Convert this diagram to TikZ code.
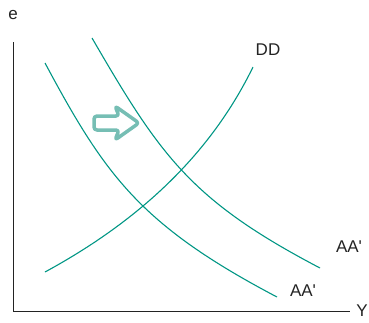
\documentclass[tikz,border=0pt]{standalone}
\usepackage{fontspec}
\setmainfont{Liberation Sans}
\definecolor{curveteal}{RGB}{0,150,132}
\definecolor{shiftteal}{RGB}{118,190,180}
\definecolor{labelgray}{RGB}{35,35,35}
\begin{document}
\begin{tikzpicture}[x=1pt,y=-1pt,
  curve/.style={curveteal,line width=1.1pt},
  lab/.style={font=\fontsize{17}{20}\selectfont,text=labelgray,inner sep=0pt}]
 \useasboundingbox (0,0) rectangle (369,322);
 % axes
 \coordinate (orig) at (13,311);
 \coordinate (ytop) at (13,42);
 \coordinate (xend) at (350,311);
 \draw[line width=1pt,labelgray] (ytop) -- (orig) -- (xend);
 \node[lab] (elab) at (13,15) {e};
 \node[lab,anchor=east] (ylab) at (368,311) {Y};
 % curves
 \draw[curve] (45,63) .. controls (105,175) and (140,225) .. (277,297);
 \draw[curve] (92,38) .. controls (160,155) and (190,200) .. (320,268);
 \draw[curve] (45,272) .. controls (150,215) and (215,145) .. (253,67);
 \node[lab] (ddlab) at (268,50) {DD};
 \node[lab] (aaup) at (349,247) {AA\textquotesingle};
 \node[lab] (aalow) at (303,291) {AA\textquotesingle};
 % shift arrow
 \draw[shiftteal,line width=3.5pt,line join=round,fill=white,rounded corners=3pt]
   (94,116) -- (119,116) -- (115,106) -- (139,123) -- (115,140) -- (119,130) -- (94,130) -- cycle;
\end{tikzpicture}
\end{document}
